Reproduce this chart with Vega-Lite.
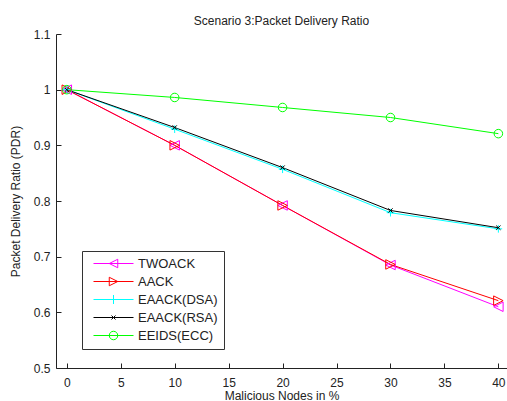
{
  "$schema": "https://vega.github.io/schema/vega-lite/v6.json",
  "width": 451,
  "height": 334,
  "autosize": {"type": "none"},
  "padding": {"left": 56, "top": 34, "right": 0, "bottom": 33},
  "background": "white",
  "title": {"text": "Scenario 3:Packet Delivery Ratio", "fontSize": 12, "fontWeight": "normal", "font": "Liberation Sans", "color": "#222", "offset": 0},
  "config": {
    "view": {"stroke": null},
    "font": "Liberation Sans",
    "axis": {"grid": false, "domainColor": "#222", "tickColor": "#222", "labelColor": "#222", "titleColor": "#222", "labelFontSize": 12, "titleFontSize": 12, "titleFontWeight": "normal", "labelFont": "Liberation Sans", "titleFont": "Liberation Sans"}
  },
  "data": {"values": [
    {"series": "TWOACK", "x": 0, "y": 1.0},
    {"series": "TWOACK", "x": 10, "y": 0.9},
    {"series": "TWOACK", "x": 20, "y": 0.792},
    {"series": "TWOACK", "x": 30, "y": 0.685},
    {"series": "TWOACK", "x": 40, "y": 0.61},
    {"series": "AACK", "x": 0, "y": 1.0},
    {"series": "AACK", "x": 10, "y": 0.9},
    {"series": "AACK", "x": 20, "y": 0.792},
    {"series": "AACK", "x": 30, "y": 0.686},
    {"series": "AACK", "x": 40, "y": 0.621},
    {"series": "EAACK(DSA)", "x": 0, "y": 1.0},
    {"series": "EAACK(DSA)", "x": 10, "y": 0.929},
    {"series": "EAACK(DSA)", "x": 20, "y": 0.857},
    {"series": "EAACK(DSA)", "x": 30, "y": 0.779},
    {"series": "EAACK(DSA)", "x": 40, "y": 0.75},
    {"series": "EAACK(RSA)", "x": 0, "y": 1.0},
    {"series": "EAACK(RSA)", "x": 10, "y": 0.932},
    {"series": "EAACK(RSA)", "x": 20, "y": 0.86},
    {"series": "EAACK(RSA)", "x": 30, "y": 0.783},
    {"series": "EAACK(RSA)", "x": 40, "y": 0.752},
    {"series": "EEIDS(ECC)", "x": 0, "y": 1.0},
    {"series": "EEIDS(ECC)", "x": 10, "y": 0.986},
    {"series": "EEIDS(ECC)", "x": 20, "y": 0.968},
    {"series": "EEIDS(ECC)", "x": 30, "y": 0.95},
    {"series": "EEIDS(ECC)", "x": 40, "y": 0.921}
  ]},
  "encoding": {
    "x": {"field": "x", "type": "quantitative", "scale": {"domain": [-1, 40.8], "nice": false, "zero": false},
      "axis": {"values": [0,5,10,15,20,25,30,35,40], "tickSize": -5, "labelPadding": 14, "title": "Malicious Nodes in %", "titlePadding": 2}},
    "y": {"field": "y", "type": "quantitative", "scale": {"domain": [0.5, 1.1], "nice": false, "zero": false},
      "axis": {"values": [0.5,0.6,0.7,0.8,0.9,1.0,1.1], "format": ".1~f", "tickSize": -5, "labelPadding": 11, "title": "Packet Delivery Ratio (PDR)", "titlePadding": 11, "titleFontSize": 12}}
  },
  "layer": [
    {"mark": {"type": "line", "strokeWidth": 1},
      "encoding": {
        "color": {"field": "series", "type": "nominal",
          "scale": {"domain": ["TWOACK", "AACK", "EAACK(DSA)", "EAACK(RSA)", "EEIDS(ECC)"], "range": ["#ff00ff", "#ff0000", "#00ffff", "#000000", "#00ff00"]},
          "legend": {"orient": "none", "legendX": 26, "legendY": 217, "title": null, "symbolType": "stroke", "symbolSize": 100, "symbolStrokeWidth": 1,
            "labelFontSize": 13, "labelColor": "#222", "labelOffset": 37, "padding": 6, "rowPadding": 4,
            "strokeColor": "#333", "fillColor": "white",
            "encode": {"symbols": {"update": {"fill": {"value": "transparent"}, "opacity": {"value": 1}, "strokeWidth": {"value": 1}, "shape": {"signal": "datum.value === 'TWOACK' ? 'M-0.2,0L7.8,0M2.95,0L4.65,-0.85L4.65,0.85Z' : datum.value === 'AACK' ? 'M-0.2,0L7.8,0M4.65,0L2.95,-0.85L2.95,0.85Z' : datum.value === 'EAACK(DSA)' ? 'M-0.2,0L7.8,0M3.8,-0.9L3.8,0.9' : datum.value === 'EAACK(RSA)' ? 'M-0.2,0L7.8,0M3.4,-0.4L4.2,0.4M3.4,0.4L4.2,-0.4' : 'M-0.2,0L7.8,0M4.65,0A0.85,0.85,0,1,1,2.95,0A0.85,0.85,0,1,1,4.65,0'"}}}}
          }
        }
      }
    },
    {"transform": [{"filter": "datum.series === 'TWOACK'"}],
      "mark": {"type": "point", "filled": false, "strokeWidth": 1, "size": 90, "opacity": 1, "color": "#ff00ff", "shape": "M-1,0L1,-1L1,1Z"}},
    {"transform": [{"filter": "datum.series === 'AACK'"}],
      "mark": {"type": "point", "filled": false, "strokeWidth": 1, "size": 90, "opacity": 1, "color": "#ff0000", "shape": "M1,0L-1,-1L-1,1Z"}},
    {"transform": [{"filter": "datum.series === 'EAACK(DSA)'"}],
      "mark": {"type": "point", "filled": false, "strokeWidth": 1, "size": 90, "opacity": 1, "color": "#00ffff", "shape": "M-0.8,0L0.8,0M0,-0.8L0,0.8"}},
    {"transform": [{"filter": "datum.series === 'EAACK(RSA)'"}],
      "mark": {"type": "point", "filled": false, "strokeWidth": 1, "size": 90, "opacity": 1, "color": "#000000", "shape": "M-0.45,-0.45L0.45,0.45M-0.45,0.45L0.45,-0.45"}},
    {"transform": [{"filter": "datum.series === 'EEIDS(ECC)'"}],
      "mark": {"type": "point", "filled": false, "strokeWidth": 1, "size": 90, "opacity": 1, "color": "#00ff00", "shape": "M0.9,0A0.9,0.9,0,1,1,-0.9,0A0.9,0.9,0,1,1,0.9,0"}}
  ]
}
